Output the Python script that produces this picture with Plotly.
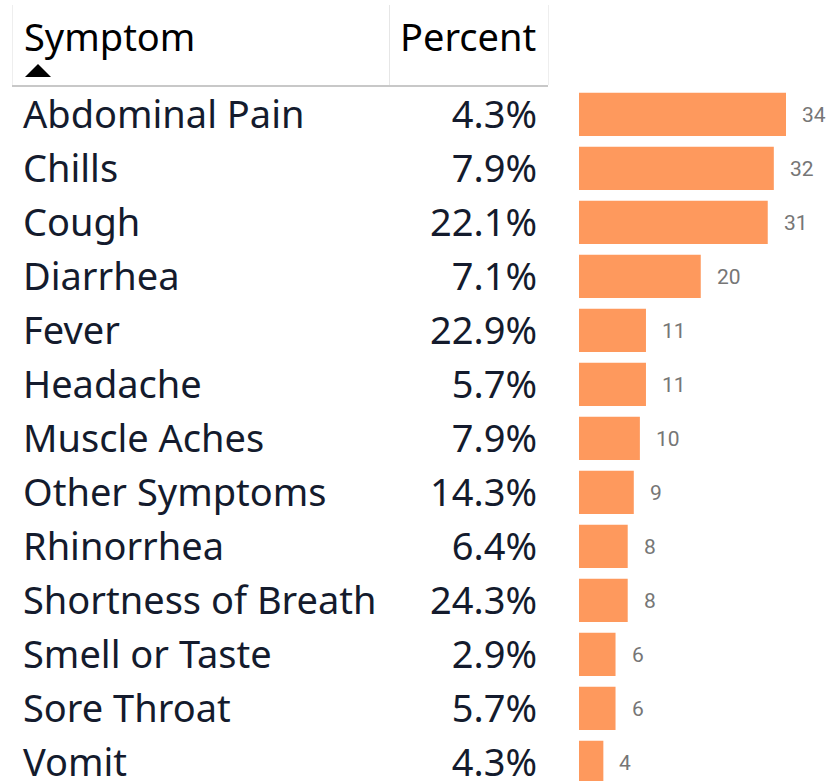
import plotly.graph_objects as go

W, H = 834, 781

symptoms = ["Abdominal Pain", "Chills", "Cough", "Diarrhea", "Fever", "Headache",
            "Muscle Aches", "Other Symptoms", "Rhinorrhea", "Shortness of Breath",
            "Smell or Taste", "Sore Throat", "Vomit"]
percent_labels = ["4.3%", "7.9%", "22.1%", "7.1%", "22.9%", "5.7%", "7.9%",
                  "14.3%", "6.4%", "24.3%", "2.9%", "5.7%", "4.3%"]
counts = [34, 32, 31, 20, 11, 11, 10, 9, 8, 8, 6, 6, 4]
headers = ["Symptom", "Percent"]

TEXT = "#141b2d"
ROW_FONT = "Noto Sans"
ROW_SIZE = 38

def px(x):
    return x / W

def py(y):
    return 1 - y / H

row0, step = 114.4, 54.0
y_top = -row0 / step
y_bot = (len(symptoms) - 1) + (H - (row0 + step * (len(symptoms) - 1))) / step
text_drop = 4.5 / step  # table text sits slightly lower than bar centres

bar_x0 = 579
scale = (786 - bar_x0) / counts[0]
bar_range_max = (W - bar_x0) / scale

fig = go.Figure()

# bars
fig.add_trace(go.Bar(
    x=counts, y=symptoms, orientation="h", marker=dict(color="#FE995D", line=dict(width=0)),
    xaxis="x", yaxis="y", hoverinfo="x+y", showlegend=False))

# table text columns
fig.add_trace(go.Scatter(
    x=[23] * len(symptoms), y=symptoms, mode="text", text=symptoms,
    textposition="middle right", textfont=dict(family=ROW_FONT, size=ROW_SIZE, color=TEXT),
    xaxis="x2", yaxis="y2", hoverinfo="skip", showlegend=False))
fig.add_trace(go.Scatter(
    x=[537] * len(symptoms), y=symptoms, mode="text", text=percent_labels,
    textposition="middle left", textfont=dict(family=ROW_FONT, size=ROW_SIZE, color=TEXT),
    xaxis="x2", yaxis="y2", hoverinfo="skip", showlegend=False))

annotations = []
for s, c in zip(symptoms, counts):
    annotations.append(dict(x=c, y=s, xref="x", yref="y", text=str(c), showarrow=False,
                            xanchor="left", yanchor="middle", xshift=14, yshift=-1,
                            font=dict(family="Roboto", size=21, color="#767676")))

annotations.append(dict(x=px(22), y=py(36), xref="paper", yref="paper", text=headers[0],
                        showarrow=False, xanchor="left", yanchor="middle",
                        font=dict(family=ROW_FONT, size=ROW_SIZE, color="#000000")))
annotations.append(dict(x=px(538), y=py(36), xref="paper", yref="paper", text=headers[1],
                        showarrow=False, xanchor="right", yanchor="middle",
                        font=dict(family=ROW_FONT, size=ROW_SIZE, color="#000000")))

shapes = [
    dict(type="line", xref="paper", yref="paper", x0=px(12), x1=px(548), y0=py(86), y1=py(86),
         line=dict(color="#c8c8c8", width=2)),
    dict(type="line", xref="paper", yref="paper", x0=px(12.5), x1=px(12.5), y0=py(5), y1=py(85),
         line=dict(color="#eeeeee", width=1)),
    dict(type="line", xref="paper", yref="paper", x0=px(389.5), x1=px(389.5), y0=py(5), y1=py(85),
         line=dict(color="#e6e6e6", width=1)),
    dict(type="line", xref="paper", yref="paper", x0=px(548.5), x1=px(548.5), y0=py(5), y1=py(85),
         line=dict(color="#eeeeee", width=1)),
    dict(type="path", xref="paper", yref="paper",
         path=f"M {px(25)} {py(77)} L {px(38)} {py(64)} L {px(51)} {py(77)} Z",
         fillcolor="#000000", line=dict(width=0)),
]

fig.update_layout(
    width=W, height=H,
    margin=dict(l=0, r=0, t=0, b=0),
    paper_bgcolor="white", plot_bgcolor="rgba(0,0,0,0)",
    bargap=0.2,
    xaxis=dict(domain=[bar_x0 / W, 1], range=[0, bar_range_max], visible=False,
               fixedrange=True, anchor="y"),
    xaxis2=dict(domain=[0, 1], range=[0, W], visible=False, fixedrange=True, anchor="y2"),
    yaxis=dict(type="category", categoryorder="array", categoryarray=symptoms,
               range=[y_bot, y_top], visible=False, fixedrange=True, anchor="x"),
    yaxis2=dict(type="category", categoryorder="array", categoryarray=symptoms,
                range=[y_bot - text_drop, y_top - text_drop], visible=False,
                fixedrange=True, anchor="x2"),
    annotations=annotations,
    shapes=shapes,
)

fig.write_html("out.html", config={"displayModeBar": False},
               post_script="document.body.style.margin='0';")
